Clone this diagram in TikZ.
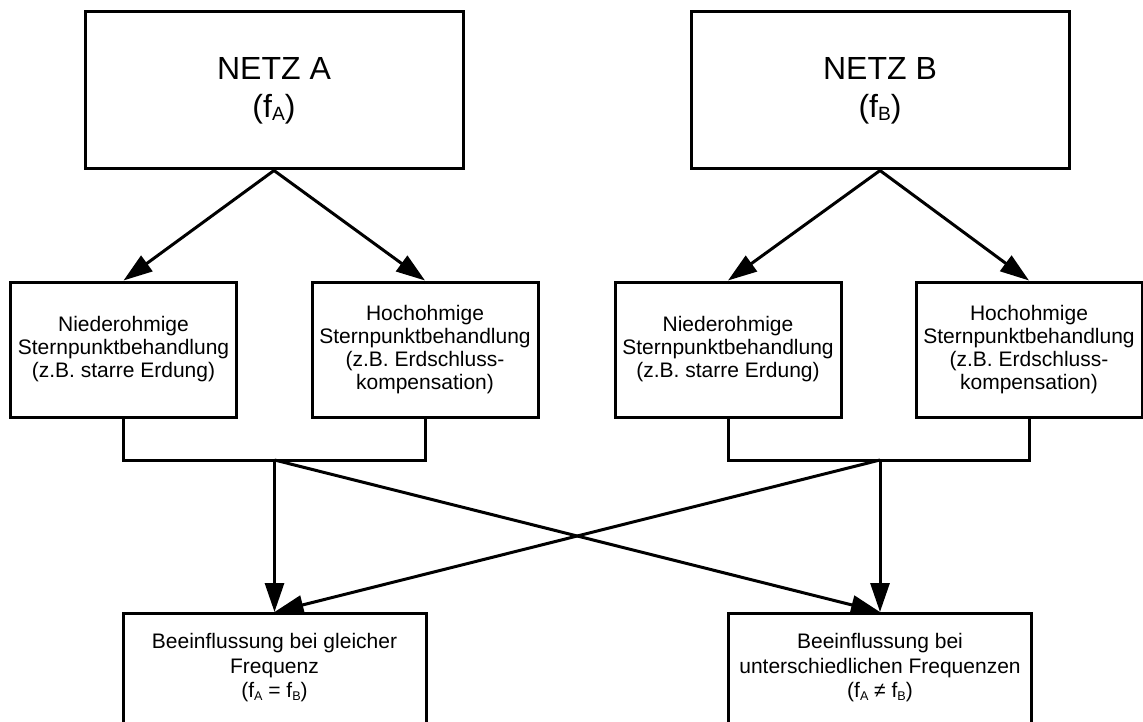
\documentclass[tikz,border=0pt]{standalone}
\usepackage{fontspec}
\setmainfont{Liberation Sans}
\usetikzlibrary{arrows.meta}
% small, slightly lowered index letter (f_A, f_B)
\newcommand\fsub[1]{\raisebox{-0.1em}{\scalebox{0.6}{#1}}}
\begin{document}
\begin{tikzpicture}[x=1pt,y=-1pt,
  box/.style={draw,line width=3pt,inner sep=0pt,align=center},
  netz/.style={box,minimum width=378pt,minimum height=157pt,font=\fontsize{32}{38}\selectfont},
  treat/.style={box,minimum width=226pt,minimum height=135pt,font=\fontsize{21}{23}\selectfont},
  effect/.style={box,minimum width=303pt,minimum height=150pt,anchor=north},
  efftext/.style={inner sep=0pt,align=center,anchor=north,font=\fontsize{21}{24.5}\selectfont},
  conn/.style={line width=3pt},
  arr/.style={conn,-{Triangle[length=29pt,width=19pt]}},
]
\useasboundingbox (0,0) rectangle (1143,722);
\fill[white] (0,0) rectangle (1143,722);
\clip (0,0) rectangle (1143,722);

% networks
\node[netz] (A) at (274,90.5) {NETZ A\\(f\fsub{A})};
\node[netz] (B) at (880,90.5) {NETZ B\\(f\fsub{B})};

% neutral point treatment
\node[treat] (NA) at (123.5,349.5) {Niederohmige\\Sternpunktbehandlung\\(z.B. starre Erdung)};
\node[treat] (HA) at (425,349.5) {Hochohmige\\Sternpunktbehandlung\\(z.B. Erdschluss-\\kompensation)};
\node[treat] (NB) at (728,349.5) {Niederohmige\\Sternpunktbehandlung\\(z.B. starre Erdung)};
\node[treat] (HB) at (1029,349.5) {Hochohmige\\Sternpunktbehandlung\\(z.B. Erdschluss-\\kompensation)};

% interference cases
\node[effect] (E1) at (274.5,612) {};
\node[effect] (E2) at (880,612) {};
\node[efftext] (E1t) at (274.5,633.5) {Beeinflussung bei gleicher\\Frequenz\\(f\fsub{A} = f\fsub{B})};
\node[efftext] (E2t) at (880,633.5) {Beeinflussung bei\\unterschiedlichen Frequenzen\\(f\fsub{A} ≠ f\fsub{B})};

% junction points of the brackets
\coordinate (jA) at (274.5,460);
\coordinate (jB) at (880,460);

% branches
\draw[arr] (A.south) -- (NA.north);
\draw[arr] (A.south) -- (HA.north);
\draw[arr] (B.south) -- (NB.north);
\draw[arr] (B.south) -- (HB.north);

% brackets
\draw[conn] (NA.south) |- (jA) -| (HA.south);
\draw[conn] (NB.south) |- (jB) -| (HB.south);

% links to the cases
\draw[arr] (jA) -- (E1.north);
\draw[arr] (jA) -- (E2.north);
\draw[arr] (jB) -- (E2.north);
\draw[arr] (jB) -- (E1.north);
\end{tikzpicture}
\end{document}
